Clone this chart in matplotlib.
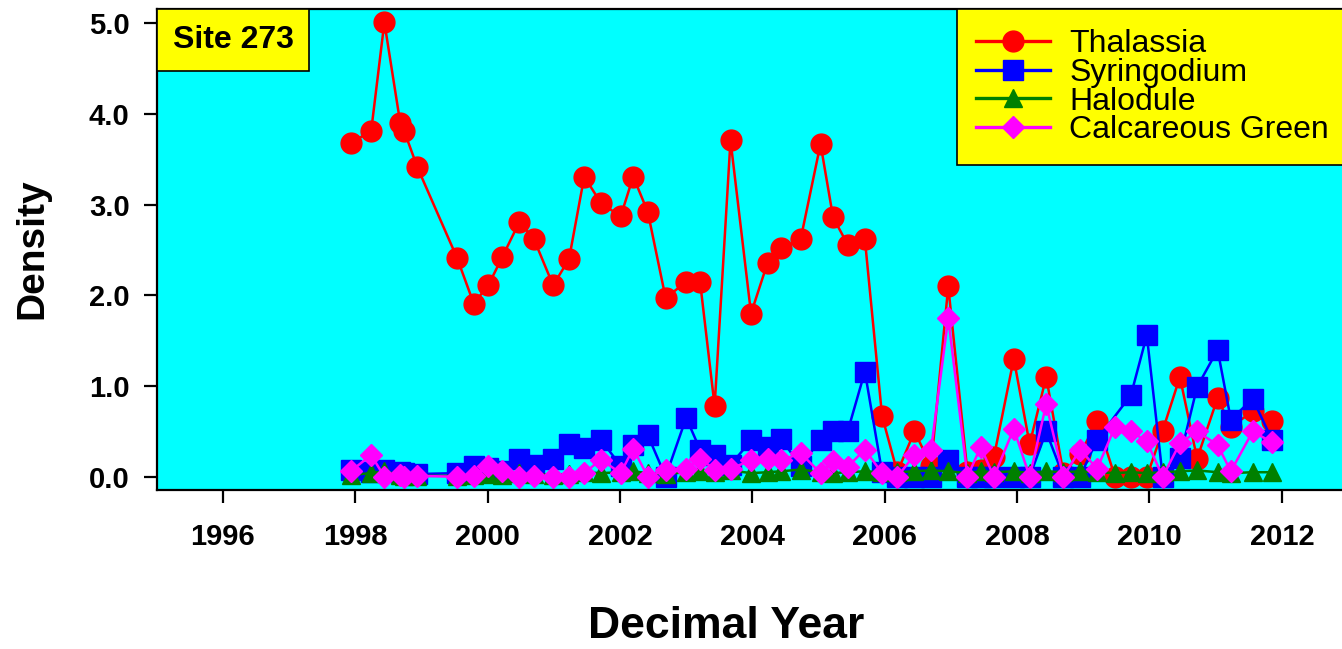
import numpy as np
import matplotlib
matplotlib.use("Agg")
import matplotlib.pyplot as plt
from matplotlib.patches import Rectangle

# sampling dates (decimal years) shared by all four groups
years = [1997.93, 1998.24, 1998.44, 1998.68, 1998.74, 1998.94,
         1999.54, 1999.79, 2000.01, 2000.22, 2000.48, 2000.70, 2000.99, 2001.23, 2001.46, 2001.71,
         2002.01, 2002.20, 2002.42, 2002.69, 2003.00, 2003.21, 2003.43, 2003.67, 2003.98,
         2004.23, 2004.43, 2004.73, 2005.03, 2005.22, 2005.44, 2005.70, 2005.96,
         2006.19, 2006.45, 2006.70, 2006.96, 2007.25, 2007.45, 2007.65, 2007.95,
         2008.19, 2008.44, 2008.70, 2008.95, 2009.21, 2009.48, 2009.72, 2009.96,
         2010.20, 2010.46, 2010.72, 2011.03, 2011.23, 2011.56, 2011.85]

thalassia = [3.68, 3.81, 5.01, 3.90, 3.81, 3.41,
             2.41, 1.91, 2.11, 2.42, 2.81, 2.62, 2.11, 2.40, 3.31, 3.02,
             2.87, 3.31, 2.92, 1.97, 2.15, 2.15, 0.78, 3.71, 1.80,
             2.36, 2.52, 2.62, 3.67, 2.86, 2.56, 2.62, 0.67,
             0.05, 0.50, 0.12, 2.10, 0.05, 0.08, 0.22, 1.30,
             0.36, 1.10, 0.04, 0.25, 0.61, 0.00, 0.00, 0.00,
             0.51, 1.10, 0.20, 0.87, 0.55, 0.72, 0.61]

syringodium = [0.07, 0.05, 0.08, 0.05, 0.04, 0.03,
               0.04, 0.12, 0.10, 0.06, 0.20, 0.13, 0.20, 0.36, 0.32, 0.41,
               0.12, 0.35, 0.46, 0.00, 0.65, 0.30, 0.24, 0.13, 0.40,
               0.33, 0.42, 0.12, 0.41, 0.51, 0.50, 1.16, 0.05,
               0.00, 0.00, 0.00, 0.18, 0.00, 0.00, 0.00, 0.00,
               0.00, 0.50, 0.00, 0.00, 0.41, np.nan, 0.90, 1.56,
               0.00, 0.21, 0.99, 1.40, 0.63, 0.86, 0.41]

halodule = [0.02, 0.04, 0.06, 0.02, 0.01, 0.01,
            0.01, 0.02, 0.03, 0.02, 0.04, 0.03, 0.02, 0.03, 0.05, 0.04,
            0.05, 0.06, 0.04, 0.03, 0.05, 0.06, 0.05, 0.07, 0.04,
            0.05, 0.06, 0.08, 0.05, 0.04, 0.05, 0.06, 0.05,
            0.05, 0.06, 0.07, 0.06, 0.04, 0.06, 0.05, 0.06,
            0.04, 0.06, 0.05, 0.06, 0.05, 0.04, 0.05, 0.04,
            0.05, 0.06, 0.07, 0.05, 0.04, 0.05, 0.05]

calcareous = [0.06, 0.24, 0.00, 0.02, 0.00, 0.01,
              0.00, 0.01, 0.12, 0.06, 0.00, 0.01, 0.00, 0.00, 0.04, 0.19,
              0.04, 0.31, 0.00, 0.08, 0.09, 0.20, 0.08, 0.09, 0.18,
              0.20, 0.18, 0.26, 0.04, 0.17, 0.11, 0.30, 0.04,
              0.00, 0.24, 0.30, 1.75, 0.00, 0.33, 0.00, 0.53,
              0.00, 0.80, 0.00, 0.30, 0.09, 0.55, 0.50, 0.39,
              0.00, 0.37, 0.50, 0.35, 0.06, 0.50, 0.38]

series = [
    ("Thalassia", thalassia, "#FF0000", "o", 15),
    ("Syringodium", syringodium, "#0000FF", "s", 14),
    ("Halodule", halodule, "#008000", "^", 13),
    ("Calcareous Green", calcareous, "#FF00FF", "D", 11),
]

xticks = list(range(1996, 2013, 2))
yticks = [0, 1, 2, 3, 4, 5]

W, H = 1342, 649
fig = plt.figure(figsize=(W / 100, H / 100), dpi=100)
# axes runs slightly past the right edge of the canvas
ax = fig.add_axes([156.7 / W, 1 - 490 / H, 1191.3 / W, 480.7 / H])
ax.set_facecolor("#00FFFF")

x = np.array(years)
for name, vals, color, marker, ms in series:
    v = np.array(vals, dtype=float)
    ok = ~np.isnan(v)
    ax.plot(x[ok], v[ok], color=color, lw=1.8, marker=marker, ms=ms,
            mec=color, mfc=color, label=name, clip_on=False)

ax.set_xlim(1995, 2013)
ax.set_ylim(-0.146, 5.154)
ax.set_xticks(xticks)
ax.set_yticks(yticks)
ax.set_yticklabels(["%.1f" % t for t in yticks])
ax.tick_params(axis="both", direction="out", length=9.5, width=1.6,
               labelsize=21, top=False, right=False)
ax.tick_params(axis="x", pad=14)
ax.tick_params(axis="y", pad=10)
for lab in ax.get_xticklabels() + ax.get_yticklabels():
    lab.set_fontweight("bold")
    lab.set_family("Liberation Sans")
for sp in ax.spines.values():
    sp.set_linewidth(1.6)

# site label box in the top-left corner
ax.add_patch(Rectangle((0, 0.872), 0.128, 0.128, transform=ax.transAxes,
                       facecolor="#FFFF00", edgecolor="black", lw=1.2, zorder=5))
ax.text(0.064, 0.936, "Site 273", transform=ax.transAxes, ha="center", va="center",
        fontsize=23, fontweight="bold", family="Liberation Sans", zorder=6)

leg = ax.legend(loc="upper left", bbox_to_anchor=(0.6715, 1.0), borderaxespad=0,
                frameon=True, fancybox=False, facecolor="#FFFF00", edgecolor="black",
                framealpha=1, prop={"family": "Liberation Sans", "size": 23},
                handlelength=2.3, handletextpad=0.6, labelspacing=-0.04,
                borderpad=0.62)
leg.get_frame().set_linewidth(1.2)
for h in leg.legend_handles:
    h.set_linewidth(2.4)
leg.set_zorder(10)

fig.text(32 / W, 1 - 249 / H, "Density", rotation=90, ha="center", va="center",
         fontsize=28, fontweight="bold", family="Liberation Sans")
fig.text(726 / W, 1 - 627 / H, "Decimal Year", ha="center", va="center",
         fontsize=32, fontweight="bold", family="Liberation Sans")

fig.savefig("out.png", dpi=100)
